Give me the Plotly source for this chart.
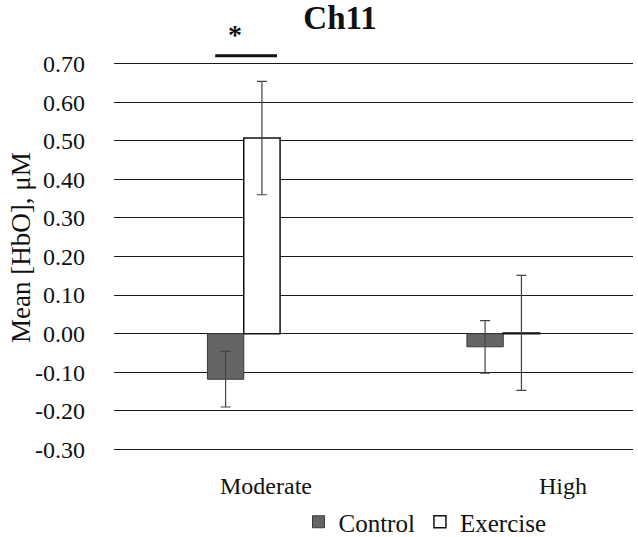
import plotly.graph_objects as go

categories = ["Moderate", "High"]
control_values = [-0.118, -0.034]
control_err = [0.072, 0.068]
exercise_values = [0.507, 0.002]
exercise_err = [0.147, 0.149]
y_ticks = [0.70, 0.60, 0.50, 0.40, 0.30, 0.20, 0.10, 0.00, -0.10, -0.20, -0.30]
y_tick_labels = ["%.2f" % v for v in y_ticks]
y_min, y_max = -0.30, 0.70
sig_level = 0.716

FONT = "Liberation Serif"
W, H = 638, 537
L, R, T, B = 114, 5, 62, 86
PW = W - L - R
PH = H - T - B


def px_x(p):  # page pixel -> paper x
    return (p - L) / PW


def px_y(p):  # page pixel -> paper y
    return (H - B - p) / PH


fig = go.Figure()
fig.add_trace(go.Bar(
    x=categories, y=control_values, name="Control",
    marker=dict(color="#656565", line=dict(color="#3a3a3a", width=1)),
    error_y=dict(type="data", array=control_err, color="#444444", thickness=1.2, width=5),
))
fig.add_trace(go.Bar(
    x=categories, y=exercise_values, name="Exercise",
    marker=dict(color="white", line=dict(color="#111111", width=1.5)),
    error_y=dict(type="data", array=exercise_err, color="#444444", thickness=1.2, width=5),
))

# x tick labels (offset as in the reference)
label_shift = [22, 60]
for cat, sh in zip(categories, label_shift):
    fig.add_annotation(x=cat, y=0, xref="x", yref="paper", yanchor="top",
                       yshift=-20, xshift=sh, text=cat, showarrow=False,
                       font=dict(family=FONT, size=24, color="#111111"))

# y axis title
fig.add_annotation(x=px_x(21), y=px_y(248), xref="paper", yref="paper",
                   xanchor="center", yanchor="middle",
                   text="Mean [HbO], μM", textangle=-90, showarrow=False,
                   font=dict(family=FONT, size=27, color="#111111"))

# significance marker
sig_paper = (sig_level - y_min) / (y_max - y_min)
fig.add_shape(type="line", xref="x", yref="paper", x0=-0.11, x1=0.128, y0=sig_paper, y1=sig_paper,
              line=dict(color="#111111", width=3))
fig.add_annotation(x=-0.034, y=sig_paper, xref="x", yref="paper", yanchor="bottom", yshift=4,
                   text="<b>*</b>", showarrow=False,
                   font=dict(family=FONT, size=28, color="#111111"))

fig.update_layout(
    width=W, height=H,
    margin=dict(l=L, r=R, t=T, b=B),
    paper_bgcolor="white", plot_bgcolor="white",
    barmode="group", bargap=0.72, bargroupgap=0,
    title=dict(text="<b>Ch11</b>", x=340 / W, xanchor="center",
               y=1 - 17 / H, yanchor="middle",
               font=dict(family=FONT, size=33, color="#111111")),
    font=dict(family=FONT, size=24, color="#111111"),
    showlegend=True,
    legend=dict(orientation="h", x=425 / W, xanchor="center", xref="container",
                y=1 - 522 / H, yanchor="middle", yref="container",
                font=dict(family=FONT, size=25, color="#111111"),
                itemwidth=30, traceorder="normal"),
    xaxis=dict(type="category", range=[-0.5, 1.5], showticklabels=False, showline=False,
               showgrid=False, ticks="", zeroline=False, fixedrange=True, automargin=False),
    yaxis=dict(range=[y_min - 0.004, y_max + 0.004], tickvals=y_ticks, ticktext=y_tick_labels,
               showgrid=True, gridcolor="#1a1a1a", gridwidth=1.3,
               zeroline=True, zerolinecolor="#1a1a1a", zerolinewidth=1.3,
               showline=False, ticks="", ticklabelstandoff=28, automargin=False,
               fixedrange=True,
               tickfont=dict(family=FONT, size=24, color="#111111")),
)

fig.write_html("out.html", config={"displayModeBar": False},
               post_script="document.body.style.margin='0';")
